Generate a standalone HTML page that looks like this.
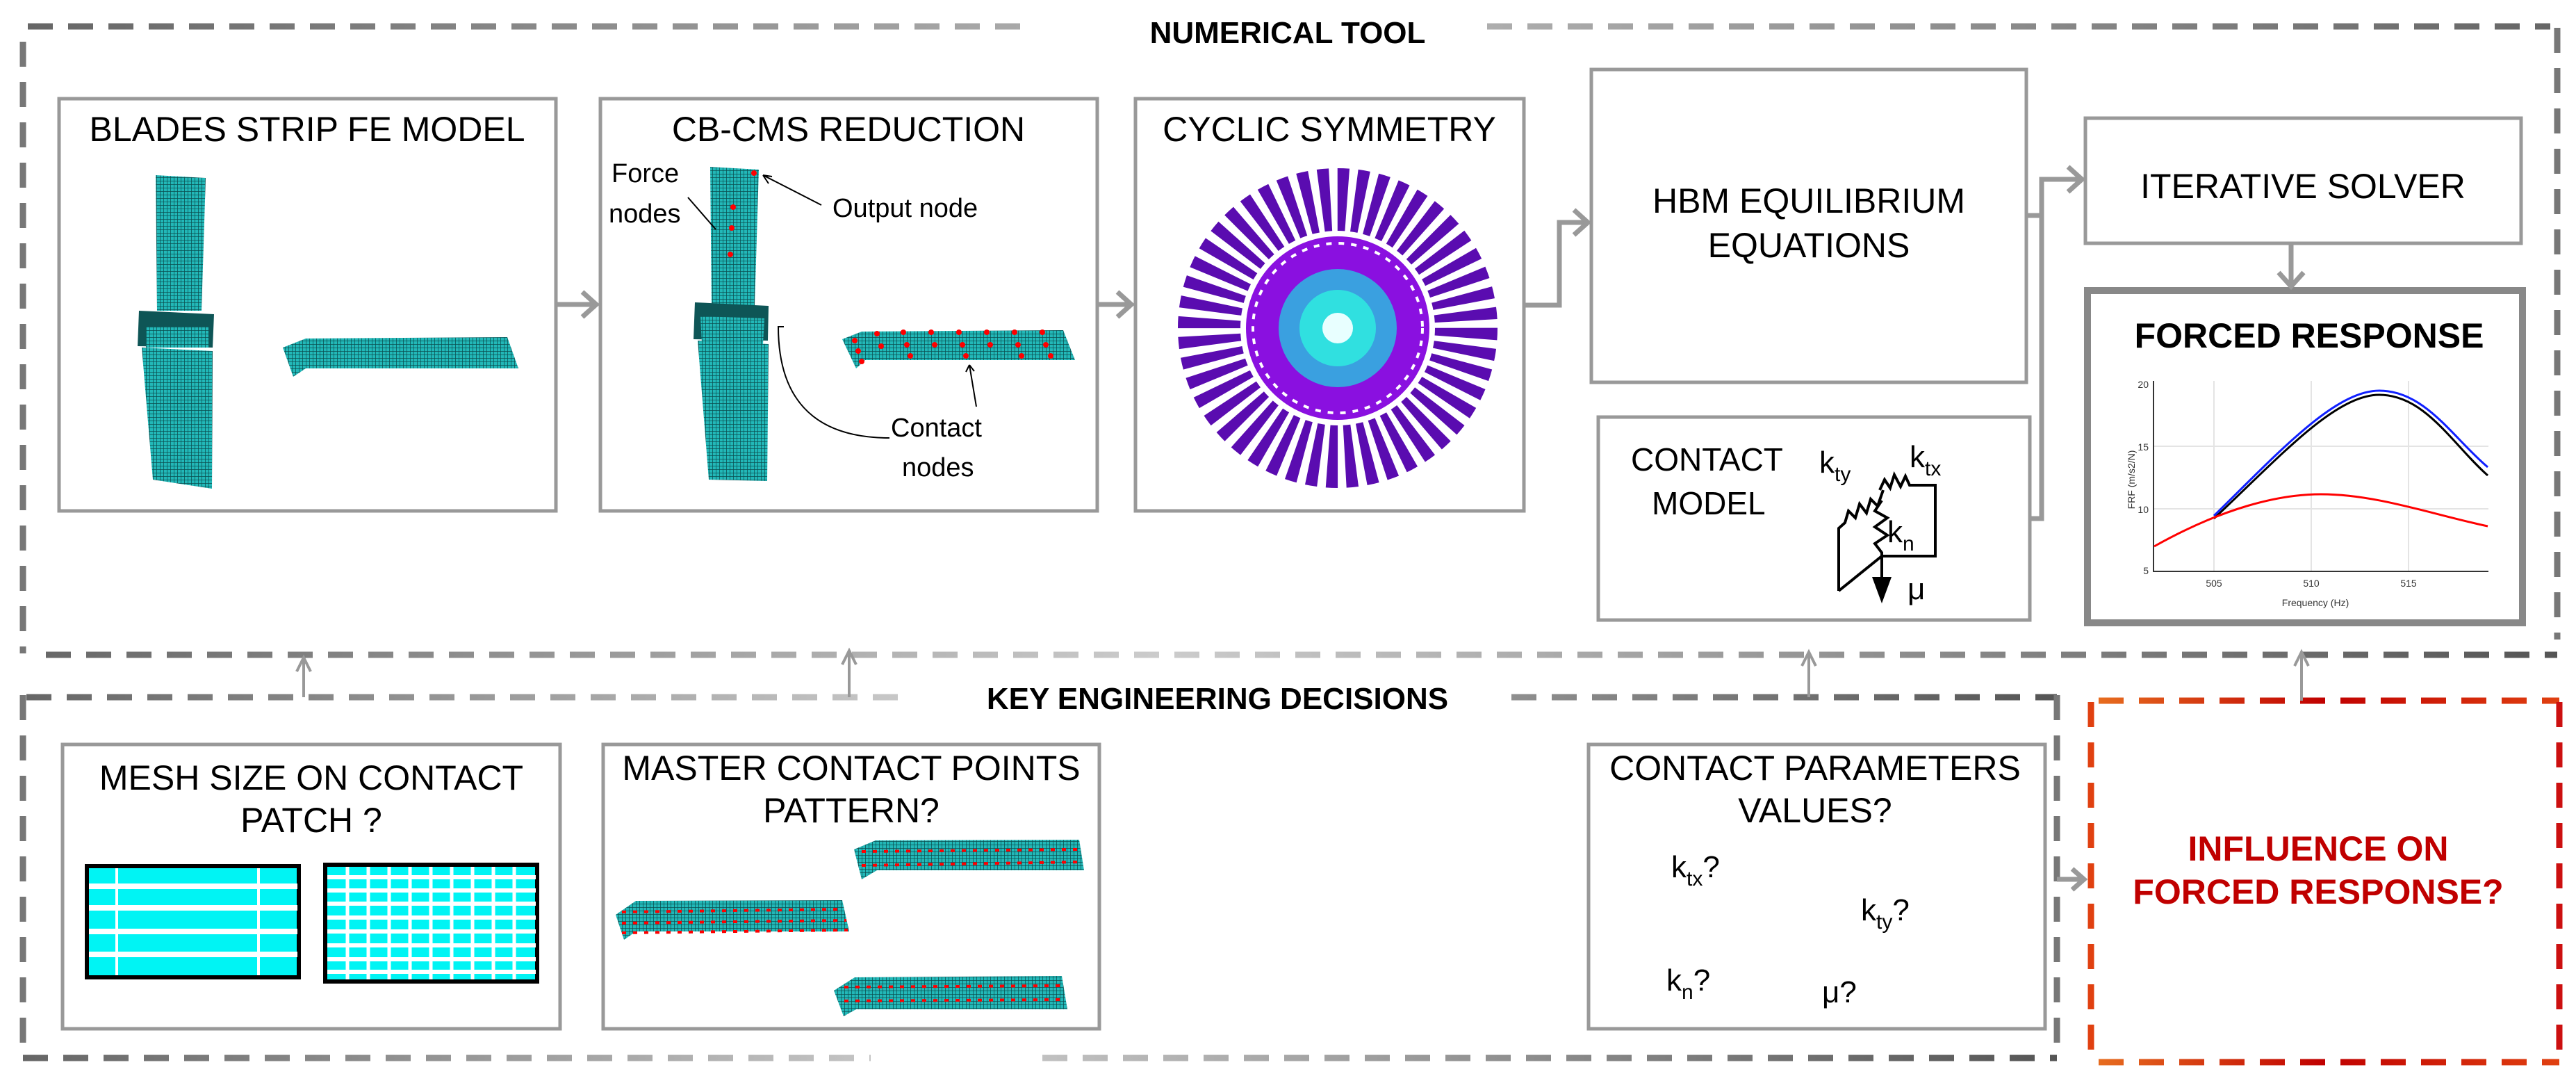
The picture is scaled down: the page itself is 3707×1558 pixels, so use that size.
<!DOCTYPE html>
<html><head><meta charset="utf-8"><style>
html,body{margin:0;padding:0;background:#fff}
svg{display:block}
text{font-family:"Liberation Sans",Arial,sans-serif}
</style></head><body>
<svg width="3707" height="1558" viewBox="0 0 3707 1558" xmlns="http://www.w3.org/2000/svg">
<defs>
<linearGradient id="gtop" gradientUnits="userSpaceOnUse" x1="40" y1="0" x2="3670" y2="0"><stop offset="0" stop-color="#666"/><stop offset="0.5" stop-color="#bbb"/><stop offset="1" stop-color="#666"/></linearGradient>
<linearGradient id="gmid" gradientUnits="userSpaceOnUse" x1="33" y1="0" x2="3680" y2="0"><stop offset="0" stop-color="#666"/><stop offset="0.45" stop-color="#ccc"/><stop offset="1" stop-color="#555"/></linearGradient>
<linearGradient id="gkey" gradientUnits="userSpaceOnUse" x1="33" y1="0" x2="2960" y2="0"><stop offset="0" stop-color="#666"/><stop offset="0.45" stop-color="#ccc"/><stop offset="1" stop-color="#555"/></linearGradient>
<linearGradient id="gred" gradientUnits="userSpaceOnUse" x1="3009" y1="0" x2="3683" y2="0"><stop offset="0" stop-color="#e87020"/><stop offset="0.5" stop-color="#c00000"/><stop offset="1" stop-color="#e04010"/></linearGradient>
<pattern id="mesh" width="5" height="5" patternUnits="userSpaceOnUse"><rect width="5" height="5" fill="#22b8b8"/><path d="M0 0H5M0 0V5" stroke="#0b4f50" stroke-width="1.5"/></pattern>
</defs>

<g fill="none" stroke-width="9" stroke-dasharray="36 22">
<line x1="40" y1="38" x2="1478" y2="38" stroke="url(#gtop)"/>
<line x1="2140" y1="38" x2="3670" y2="38" stroke="url(#gtop)"/>
<line x1="33" y1="60" x2="33" y2="940" stroke="#777"/>
<line x1="3680" y1="40" x2="3680" y2="920" stroke="#777"/>
<line x1="66" y1="942" x2="3680" y2="942" stroke="url(#gmid)"/>
<line x1="38" y1="1003" x2="1310" y2="1003" stroke="url(#gkey)"/>
<line x1="2175" y1="1003" x2="2960" y2="1003" stroke="url(#gkey)"/>
<line x1="33" y1="1000" x2="33" y2="1520" stroke="#777"/>
<line x1="2960" y1="1000" x2="2960" y2="1520" stroke="#777"/>
<line x1="33" y1="1522" x2="1253" y2="1522" stroke="url(#gkey)"/>
<line x1="1500" y1="1522" x2="2960" y2="1522" stroke="url(#gkey)"/>
<line x1="3020" y1="1008" x2="3683" y2="1008" stroke="url(#gred)"/>
<line x1="3009" y1="1010" x2="3009" y2="1528" stroke="#e04010"/>
<line x1="3683" y1="1010" x2="3683" y2="1528" stroke="#cc1010"/>
<line x1="3020" y1="1528" x2="3683" y2="1528" stroke="url(#gred)"/>
</g>
<text x="1853" y="62" font-size="44" font-weight="bold" text-anchor="middle">NUMERICAL TOOL</text>
<text x="1752" y="1020" font-size="44" font-weight="bold" text-anchor="middle">KEY ENGINEERING DECISIONS</text>

<g fill="#fff" stroke="#999" stroke-width="5">
<rect x="85" y="142" width="715" height="593"/>
<rect x="864" y="142" width="715" height="593"/>
<rect x="1634" y="142" width="559" height="593"/>
<rect x="2290" y="100" width="626" height="450"/>
<rect x="3001" y="170" width="627" height="180"/>
<rect x="3004" y="418" width="626" height="478" stroke="#888" stroke-width="10"/>
<rect x="2300" y="600" width="621" height="292"/>
<rect x="90" y="1071" width="716" height="409"/>
<rect x="868" y="1071" width="714" height="409"/>
<rect x="2286" y="1071" width="657" height="409"/>
</g>

<g font-size="50" text-anchor="middle">
<text x="442" y="203">BLADES STRIP FE MODEL</text>
<text x="1221" y="203">CB-CMS REDUCTION</text>
<text x="1913" y="203">CYCLIC SYMMETRY</text>
<text x="2603" y="306">HBM EQUILIBRIUM</text>
<text x="2603" y="370">EQUATIONS</text>
<text x="3314" y="285">ITERATIVE SOLVER</text>
<text x="3323" y="500" font-weight="bold">FORCED RESPONSE</text>
<text x="448" y="1136">MESH SIZE ON CONTACT</text>
<text x="448" y="1197">PATCH ?</text>
<text x="1225" y="1122">MASTER CONTACT POINTS</text>
<text x="1225" y="1183">PATTERN?</text>
<text x="2612" y="1122">CONTACT PARAMETERS</text>
<text x="2612" y="1183">VALUES?</text>
<text x="3336" y="1238" fill="#c00000" font-weight="bold">INFLUENCE ON</text>
<text x="3336" y="1300" fill="#c00000" font-weight="bold">FORCED RESPONSE?</text>
</g>
<text x="2347" y="677" font-size="46">CONTACT</text>
<text x="2377" y="740" font-size="46">MODEL</text>

<polygon points="224,252 296,256 290,447 226,447" fill="url(#mesh)"/>
<polygon points="200,447 308,452 306,500 198,498" fill="#0e5556"/>
<polygon points="210,470 300,470 300,500 210,500" fill="url(#mesh)"/>
<polygon points="204,500 306,505 305,703 220,690" fill="url(#mesh)"/>
<polygon points="407,500 440,487 730,485 746,530 440,530 422,542" fill="url(#mesh)"/>
<polygon points="1022,240 1092,244 1086,440 1024,440" fill="url(#mesh)"/>
<polygon points="1000,435 1106,440 1105,490 998,488" fill="#0e5556"/>
<polygon points="1008,455 1100,458 1098,495 1010,495" fill="url(#mesh)"/>
<polygon points="1004,490 1106,495 1104,692 1020,690" fill="url(#mesh)"/>
<polygon points="1212,488 1240,477 1530,475 1547,518 1245,518 1232,530" fill="url(#mesh)"/>
<g fill="#f00">
<circle cx="1085" cy="249" r="4"/><circle cx="1055" cy="298" r="4"/><circle cx="1053" cy="328" r="4"/><circle cx="1051" cy="366" r="4"/>
<circle cx="1230" cy="490" r="4"/><circle cx="1262" cy="480" r="4"/><circle cx="1300" cy="478" r="4"/><circle cx="1340" cy="478" r="4"/><circle cx="1380" cy="478" r="4"/><circle cx="1420" cy="478" r="4"/><circle cx="1460" cy="478" r="4"/><circle cx="1500" cy="478" r="4"/>
<circle cx="1235" cy="505" r="4"/><circle cx="1268" cy="498" r="4"/><circle cx="1305" cy="496" r="4"/><circle cx="1345" cy="496" r="4"/><circle cx="1385" cy="496" r="4"/><circle cx="1425" cy="496" r="4"/><circle cx="1465" cy="496" r="4"/><circle cx="1505" cy="496" r="4"/>
<circle cx="1240" cy="520" r="4"/><circle cx="1310" cy="512" r="4"/><circle cx="1390" cy="512" r="4"/><circle cx="1470" cy="512" r="4"/><circle cx="1512" cy="512" r="4"/>
</g>
<g font-size="38">
<text x="880" y="262">Force</text><text x="876" y="320">nodes</text>
<text x="1198" y="312">Output node</text>
<text x="1282" y="628">Contact</text><text x="1298" y="685">nodes</text>
</g>
<g fill="none" stroke="#000" stroke-width="2">
<path d="M990 284 L1030 330"/><path d="M1182 295 L1098 252 M1098 252 l8 12 M1098 252 l13 2"/>
<path d="M1280 630 C1200 630 1120 600 1120 470 L1128 470"/>
<path d="M1405 585 L1395 525 M1395 525 l-5 10 M1395 525 l7 9"/>
</g>

<circle cx="1925" cy="472" r="185" fill="none" stroke="#5a0cb0" stroke-width="90" stroke-dasharray="14 10.2"/>
<circle cx="1925" cy="472" r="132" fill="#8a10e0"/>
<circle cx="1925" cy="472" r="122" fill="none" stroke="#fff" stroke-width="4" stroke-dasharray="8 10"/>
<circle cx="1925" cy="472" r="85" fill="#3aa0e0"/>
<circle cx="1925" cy="472" r="55" fill="#30e0e0"/>
<circle cx="1925" cy="472" r="22" fill="#e8ffff"/>

<g fill="none" stroke="#000" stroke-width="4">
<path d="M2646 850 V760 L2655 752 L2660 735 L2670 745 L2676 725 L2686 738 L2692 718 L2702 728 L2710 705"/>
<path d="M2705 705 L2712 690 L2720 702 L2726 683 L2735 700 L2742 685 L2748 698 H2785 V800 H2708"/>
<path d="M2708 720 L2698 735 L2716 745 L2698 758 L2716 770 L2698 782 L2708 795 V830"/>
<path d="M2646 850 L2708 800"/>
</g>
<polygon points="2694,830 2722,830 2708,868" fill="#000"/>
<g font-size="44">
<text x="2618" y="680">k<tspan font-size="30" dy="12">ty</tspan></text>
<text x="2748" y="672">k<tspan font-size="30" dy="12">tx</tspan></text>
<text x="2716" y="780">k<tspan font-size="30" dy="12">n</tspan></text>
<text x="2745" y="862">μ</text>
</g>

<g stroke="#e4e4e4" stroke-width="2">
<line x1="3186" y1="548" x2="3186" y2="822"/><line x1="3326" y1="548" x2="3326" y2="822"/><line x1="3466" y1="548" x2="3466" y2="822"/>
<line x1="3099" y1="642" x2="3581" y2="642"/><line x1="3099" y1="732" x2="3581" y2="732"/>
</g>
<path d="M3099 548 V822 H3581" fill="none" stroke="#333" stroke-width="2"/>
<g font-size="14" fill="#333">
<text x="3092" y="558" text-anchor="end">20</text><text x="3092" y="648" text-anchor="end">15</text><text x="3092" y="738" text-anchor="end">10</text><text x="3092" y="826" text-anchor="end">5</text>
<text x="3186" y="844" text-anchor="middle">505</text><text x="3326" y="844" text-anchor="middle">510</text><text x="3466" y="844" text-anchor="middle">515</text>
<text x="3332" y="872" text-anchor="middle">Frequency (Hz)</text>
<text transform="translate(3072 690) rotate(-90)" text-anchor="middle">FRF (m/s2/N)</text>
</g>
<path d="M3186 742 C3280 650 3360 562 3424 562 C3490 562 3530 630 3580 672" fill="none" stroke="#1020ff" stroke-width="3"/>
<path d="M3186 746 C3280 658 3360 568 3424 568 C3490 568 3530 640 3580 684" fill="none" stroke="#000" stroke-width="3"/>
<path d="M3100 786 C3200 730 3280 711 3340 711 C3420 711 3500 740 3580 757" fill="none" stroke="#f00" stroke-width="3"/>

<rect x="125" y="1246" width="305" height="160" fill="#00f4f4" stroke="#000" stroke-width="6"/>
<g stroke="#fff" stroke-width="8"><line x1="128" y1="1275" x2="428" y2="1275"/><line x1="128" y1="1306" x2="428" y2="1306"/><line x1="128" y1="1340" x2="428" y2="1340"/><line x1="128" y1="1373" x2="428" y2="1373"/></g>
<g stroke="#fff" stroke-width="4"><line x1="168" y1="1249" x2="168" y2="1403"/><line x1="372" y1="1249" x2="372" y2="1403"/></g>
<rect x="468" y="1244" width="305" height="168" fill="#00f4f4" stroke="#000" stroke-width="6"/>
<g stroke="#fff" stroke-width="6"><line x1="471" y1="1262" x2="771" y2="1262"/><line x1="471" y1="1281" x2="771" y2="1281"/><line x1="471" y1="1300" x2="771" y2="1300"/><line x1="471" y1="1320" x2="771" y2="1320"/><line x1="471" y1="1340" x2="771" y2="1340"/><line x1="471" y1="1360" x2="771" y2="1360"/><line x1="471" y1="1380" x2="771" y2="1380"/><line x1="471" y1="1398" x2="771" y2="1398"/></g>
<g stroke="#fff" stroke-width="5"><line x1="500" y1="1247" x2="500" y2="1409"/><line x1="530" y1="1247" x2="530" y2="1409"/><line x1="560" y1="1247" x2="560" y2="1409"/><line x1="590" y1="1247" x2="590" y2="1409"/><line x1="620" y1="1247" x2="620" y2="1409"/><line x1="650" y1="1247" x2="650" y2="1409"/><line x1="680" y1="1247" x2="680" y2="1409"/><line x1="710" y1="1247" x2="710" y2="1409"/><line x1="740" y1="1247" x2="740" y2="1409"/></g>

<g fill="url(#mesh)">
<polygon points="1229,1222 1260,1209 1553,1208 1560,1252 1262,1252 1240,1265"/>
<polygon points="886,1316 915,1296 1212,1295 1222,1340 915,1340 898,1352"/>
<polygon points="1200,1425 1230,1406 1528,1404 1536,1452 1232,1452 1214,1462"/>
</g>
<g stroke="#f00" stroke-width="4" stroke-dasharray="6 10">
<line x1="1240" y1="1225" x2="1550" y2="1222"/><line x1="1240" y1="1245" x2="1555" y2="1240"/>
<line x1="895" y1="1312" x2="1215" y2="1308"/><line x1="895" y1="1328" x2="1218" y2="1324"/><line x1="895" y1="1342" x2="1220" y2="1338"/>
<line x1="1215" y1="1420" x2="1530" y2="1418"/><line x1="1215" y1="1440" x2="1532" y2="1438"/>
</g>

<g font-size="44">
<text x="2405" y="1262">k<tspan font-size="30" dy="12">tx</tspan><tspan dy="-12">?</tspan></text>
<text x="2678" y="1324">k<tspan font-size="30" dy="12">ty</tspan><tspan dy="-12">?</tspan></text>
<text x="2398" y="1425">k<tspan font-size="30" dy="12">n</tspan><tspan dy="-12">?</tspan></text>
<text x="2622" y="1442">μ?</text>
</g>

<g fill="none" stroke="#999" stroke-width="7" stroke-linejoin="miter">
<line x1="800" y1="438" x2="858" y2="438"/><polyline points="838,420 858,438 838,456"/>
<line x1="1579" y1="438" x2="1628" y2="438"/><polyline points="1608,420 1628,438 1608,456"/>
<polyline points="2193,439 2244,439 2244,320 2284,320"/><polyline points="2265,302 2285,320 2265,338"/>
<polyline points="2916,310 2938,310"/>
<polyline points="2921,746 2938,746 2938,258 2995,258"/><polyline points="2976,240 2996,258 2976,276"/>
<line x1="3297" y1="350" x2="3297" y2="412"/><polyline points="3279,392 3297,412 3315,392"/>
<line x1="2960" y1="1265" x2="3000" y2="1265"/><polyline points="2982,1250 2999,1265 2982,1280"/>
</g>
<g fill="none" stroke="#999" stroke-width="4">
<line x1="437" y1="1003" x2="437" y2="948"/><polyline points="427,966 437,946 447,966"/>
<line x1="1222" y1="1003" x2="1222" y2="936"/><polyline points="1212,956 1222,936 1232,956"/>
<line x1="2603" y1="1003" x2="2603" y2="938"/><polyline points="2593,958 2603,938 2613,958"/>
<line x1="3312" y1="1008" x2="3312" y2="938"/><polyline points="3302,958 3312,938 3322,958"/>
</g>
</svg>
</body></html>
